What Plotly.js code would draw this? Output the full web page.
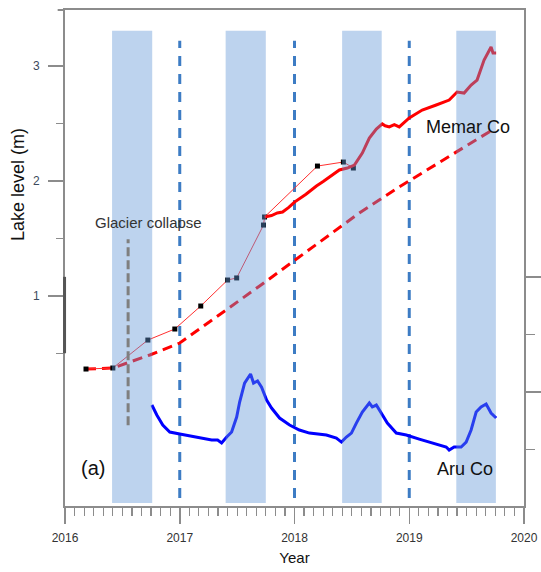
<!DOCTYPE html>
<html>
<head>
<meta charset="utf-8">
<script src="https://cdn.plot.ly/plotly-3.0.1.min.js"></script>
<style>
html,body{margin:0;padding:0;background:#fff;}
#chart{width:541px;height:572px;}
</style>
</head>
<body>
<div id="chart"></div>
<script>
// ---- Data ----
// Memar Co observed lake level (thick red line), m
const memarObsYear  = [2017.739, 2017.80, 2017.85, 2017.896, 2017.95, 2018.0, 2018.10, 2018.191, 2018.25, 2018.304, 2018.391, 2018.461, 2018.522, 2018.591, 2018.652, 2018.713, 2018.765, 2018.79, 2018.826, 2018.87, 2018.913, 2019.0, 2019.113, 2019.235, 2019.348, 2019.417, 2019.478, 2019.539, 2019.591, 2019.652, 2019.713, 2019.730, 2019.757];
const memarObsLevel = [1.687, 1.700, 1.722, 1.730, 1.770, 1.817, 1.885, 1.957, 1.995, 2.035, 2.096, 2.113, 2.139, 2.243, 2.374, 2.452, 2.496, 2.480, 2.470, 2.490, 2.470, 2.548, 2.617, 2.661, 2.704, 2.774, 2.765, 2.835, 2.878, 3.052, 3.165, 3.113, 3.113];

// Memar Co trend (dashed red line), m
const memarTrendYear  = [2016.183, 2016.417, 2016.739, 2017.0, 2017.696, 2018.0, 2018.565, 2018.913, 2019.722];
const memarTrendLevel = [0.365, 0.374, 0.487, 0.591, 1.087, 1.311, 1.722, 1.948, 2.443];

// Memar Co sparse measurements (thin red line with square markers), m
const memarPointYear  = [2016.183, 2016.417, 2016.722, 2016.957, 2017.183, 2017.417, 2017.496, 2017.730, 2017.739, 2018.200, 2018.426, 2018.513];
const memarPointLevel = [0.365, 0.374, 0.617, 0.713, 0.913, 1.139, 1.157, 1.617, 1.687, 2.130, 2.165, 2.113];

// Aru Co lake level (blue line, right axis), m
const aruYear  = [2016.757, 2016.800, 2016.852, 2016.913, 2017.000, 2017.087, 2017.174, 2017.278, 2017.330, 2017.365, 2017.409, 2017.452, 2017.496, 2017.522, 2017.565, 2017.617, 2017.643, 2017.678, 2017.713, 2017.757, 2017.800, 2017.870, 2017.957, 2018.043, 2018.130, 2018.217, 2018.278, 2018.365, 2018.409, 2018.452, 2018.496, 2018.539, 2018.591, 2018.652, 2018.678, 2018.713, 2018.765, 2018.809, 2018.887, 2018.974, 2019.087, 2019.200, 2019.322, 2019.348, 2019.391, 2019.452, 2019.496, 2019.539, 2019.583, 2019.626, 2019.670, 2019.713, 2019.757];
const aruLevel = [0.887, 0.800, 0.713, 0.652, 0.635, 0.617, 0.600, 0.583, 0.583, 0.557, 0.609, 0.652, 0.783, 0.913, 1.078, 1.157, 1.078, 1.096, 1.043, 0.930, 0.861, 0.774, 0.713, 0.670, 0.643, 0.635, 0.626, 0.600, 0.565, 0.609, 0.643, 0.730, 0.826, 0.904, 0.870, 0.887, 0.800, 0.730, 0.643, 0.626, 0.591, 0.557, 0.522, 0.496, 0.522, 0.522, 0.565, 0.670, 0.826, 0.870, 0.896, 0.817, 0.774];

// Warm-season shading (start/end, decimal year)
const summerStart = [2016.41, 2017.40, 2018.415, 2019.41];
const summerEnd   = [2016.76, 2017.75, 2018.76, 2019.755];
// Year boundaries marked by blue dashed lines
const yearLines = [2017, 2018, 2019];
// Glacier collapse date
const collapseYear = 2016.55;

// Axis ticks
const xTickVals = [2016, 2017, 2018, 2019, 2020];
const xTickText = ['2016', '2017', '2018', '2019', '2020'];
const yTickVals = [1, 2, 3];
const yMinorVals = [0.5, 1.5, 2.5];
const y2TickVals = [1, 2];
const y2MinorVals = [0.5, 1.5];

// ---- Traces ----
const traces = [
  {x: memarTrendYear, y: memarTrendLevel, type: 'scatter', mode: 'lines',
   line: {color: '#ff0000', width: 3, dash: '10px,6px'}, hoverinfo: 'skip'},
  {x: memarPointYear, y: memarPointLevel, type: 'scatter', mode: 'lines+markers',
   line: {color: '#ff3030', width: 1}, marker: {symbol: 'square', size: 5, color: '#000'}, hoverinfo: 'skip'},
  {x: memarObsYear, y: memarObsLevel, type: 'scatter', mode: 'lines',
   line: {color: '#ff0000', width: 3}, hoverinfo: 'skip'},
  {x: aruYear, y: aruLevel, type: 'scatter', mode: 'lines', yaxis: 'y2',
   line: {color: '#0000ff', width: 3}, hoverinfo: 'skip'}
];

// ---- Shapes ----
const shapes = [];
summerStart.forEach((s, i) => {
  shapes.push({type: 'rect', xref: 'x', yref: 'paper', x0: s, x1: summerEnd[i], y0: 0.006, y1: 0.958,
    fillcolor: 'rgb(98,150,214)', opacity: 0.42, line: {width: 0}, layer: 'above'});
});
yearLines.forEach(x => {
  shapes.push({type: 'line', xref: 'x', yref: 'paper', x0: x, x1: x, y0: 0.016, y1: 0.938,
    line: {color: '#3d7cc4', width: 3, dash: '10px,8px'}, layer: 'below'});
});
shapes.push({type: 'line', xref: 'x', yref: 'paper', x0: collapseYear, x1: collapseYear, y0: 0.163, y1: 0.538,
  line: {color: '#7f7f7f', width: 3, dash: '9px,4px'}, layer: 'above'});
// small axis decorations
shapes.push({type: 'line', xref: 'paper', yref: 'paper', x0: -0.001, x1: -0.001, y0: 0.308, y1: 0.462,
  line: {color: '#555', width: 3}});
shapes.push({type: 'line', xref: 'paper', yref: 'paper', x0: -0.016, x1: 0, y0: 1, y1: 1,
  line: {color: '#8c8c8c', width: 2}});

// ---- Annotations ----
const txtFont = {family: 'Arial, "Liberation Sans", sans-serif', color: '#111'};
const annotations = [
  {text: 'Glacier collapse', x: 2016.244, y: 1.636, xref: 'x', yref: 'y', xanchor: 'left', yanchor: 'middle',
   showarrow: false, font: Object.assign({}, txtFont, {size: 15, color: '#333'})},
  {text: 'Memar Co', x: 2019.516, y: 2.47, xref: 'x', yref: 'y', xanchor: 'center', yanchor: 'middle',
   showarrow: false, font: Object.assign({}, txtFont, {size: 18})},
  {text: 'Aru Co', x: 2019.49, y: -0.504, xref: 'x', yref: 'y', xanchor: 'center', yanchor: 'middle',
   showarrow: false, font: Object.assign({}, txtFont, {size: 18})},
  {text: '(a)', x: 2016.24, y: -0.496, xref: 'x', yref: 'y', xanchor: 'center', yanchor: 'middle',
   showarrow: false, font: Object.assign({}, txtFont, {size: 20})},
  {text: 'Lake level (m)', x: -0.1024, y: 0.649, xref: 'paper', yref: 'paper', xanchor: 'center', yanchor: 'middle',
   textangle: -90, showarrow: false, font: Object.assign({}, txtFont, {size: 18})}
];

const axisColor = '#8c8c8c';
const layout = {
  width: 541, height: 572,
  margin: {l: 65, r: 17, t: 10, b: 66, pad: 0},
  paper_bgcolor: '#fff', plot_bgcolor: '#fff',
  showlegend: false,
  xaxis: {
    range: [2016, 2020], tickvals: xTickVals, ticktext: xTickText,
    ticks: 'outside', ticklen: 16, tickwidth: 1.5, tickcolor: axisColor,
    minor: {dtick: 1/12, tick0: 2016, ticks: 'outside', ticklen: 8, tickwidth: 1.2, tickcolor: axisColor, showgrid: false},
    showline: true, linecolor: axisColor, linewidth: 2, mirror: true,
    showgrid: false, zeroline: false, ticklabelstandoff: 4,
    tickfont: {family: 'Arial, "Liberation Sans", sans-serif', size: 12, color: '#333'},
    title: {text: 'Year', standoff: 8, font: {family: 'Arial, "Liberation Sans", sans-serif', size: 15, color: '#111'}},
    automargin: false, fixedrange: true
  },
  yaxis: {
    range: [-0.826, 3.487], tickvals: yTickVals,
    ticks: 'outside', ticklen: 15, tickwidth: 1.5, tickcolor: axisColor,
    minor: {tickvals: yMinorVals, ticks: 'outside', ticklen: 7, tickwidth: 1.2, tickcolor: axisColor, showgrid: false},
    showline: true, linecolor: axisColor, linewidth: 2,
    showgrid: false, zeroline: false, ticklabelstandoff: 6,
    tickfont: {family: 'Arial, "Liberation Sans", sans-serif', size: 12, color: '#3c4a5c'},
    automargin: false, fixedrange: true
  },
  yaxis2: {
    overlaying: 'y', side: 'right', range: [0.009, 4.322], tickvals: y2TickVals,
    ticks: 'outside', ticklen: 17, tickwidth: 1.5, tickcolor: axisColor,
    minor: {tickvals: y2MinorVals, ticks: 'outside', ticklen: 9, tickwidth: 1.2, tickcolor: axisColor, showgrid: false},
    showline: true, linecolor: axisColor, linewidth: 2,
    showticklabels: false, showgrid: false, zeroline: false,
    automargin: false, fixedrange: true
  },
  shapes: shapes,
  annotations: annotations
};

Plotly.newPlot('chart', traces, layout, {staticPlot: true, displayModeBar: false});
</script>
</body>
</html>
